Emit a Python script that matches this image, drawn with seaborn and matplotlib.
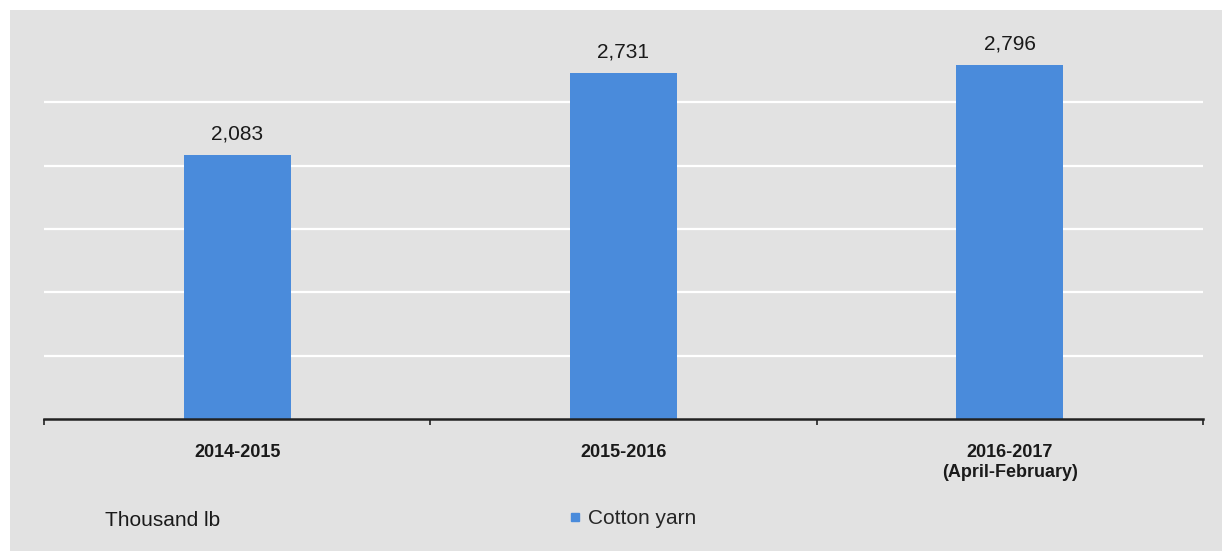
import matplotlib
matplotlib.use("Agg")
import matplotlib.pyplot as plt
from matplotlib.lines import Line2D
from matplotlib.patches import Rectangle
import seaborn as sns
import pandas as pd

categories = ["2014-2015", "2015-2016", "2016-2017\n(April-February)"]
values = [2083, 2731, 2796]
value_labels = ["2,083", "2,731", "2,796"]
series_name = "Cotton yarn"
unit_label = "Thousand lb"

df = pd.DataFrame({"period": categories, "value": values})

sns.set_style("white")
plt.rcParams["font.family"] = ["Liberation Sans", "DejaVu Sans"]

W, H = 1231, 551
fig = plt.figure(figsize=(W / 100, H / 100), dpi=100, facecolor="white")
bg = "#e2e2e2"
fig.patches.append(Rectangle((10 / W, 0), (1222 - 10) / W, 1 - 10 / H,
                             transform=fig.transFigure, facecolor=bg,
                             edgecolor="none", zorder=-10))

ax = fig.add_axes([44 / W, 1 - 419 / H, (1203 - 44) / W, (419 - 32.6) / H])
ax.set_facecolor(bg)

bar_color = "#4a8bdb"
sns.barplot(data=df, x="period", y="value", color=bar_color, width=0.277,
            saturation=1, linewidth=0, edgecolor="none", ax=ax, zorder=3)

ax.set_xlim(-0.5, 2.5)
ax.set_ylim(0, 3050)
ax.set_yticks([500, 1000, 1500, 2000, 2500])
ax.yaxis.grid(True, color="white", linewidth=1.6, zorder=0)
ax.set_axisbelow(True)
ax.tick_params(axis="y", left=False, labelleft=False)
for s in ["top", "right", "left"]:
    ax.spines[s].set_visible(False)
ax.spines["bottom"].set_color("#222222")
ax.spines["bottom"].set_linewidth(1.8)
ax.spines["bottom"].set_zorder(5)

ax.set_xticks([0, 1, 2])
ax.set_xticklabels(categories, fontsize=13, fontweight="bold", color="#1a1a1a")
ax.set_xticks([-0.5, 0.5, 1.5, 2.5], minor=True)
ax.tick_params(axis="x", which="major", bottom=False, length=0, pad=18)
ax.tick_params(axis="x", which="minor", bottom=True, length=4, width=1.2,
               color="#222222", direction="out")
ax.set_xlabel("")
ax.set_ylabel("")

ax.bar_label(ax.containers[0], labels=value_labels, padding=8, fontsize=15, color="#1a1a1a")

fig.text(105 / W, 1 - 520 / H, unit_label, fontsize=15, color="#1a1a1a", va="center", ha="left")

handle = Line2D([], [], marker="s", linestyle="none", markersize=6,
                markerfacecolor=bar_color, markeredgecolor=bar_color)
fig.legend([handle], [series_name], loc="center left",
           bbox_to_anchor=(569 / W, 1 - 519 / H), frameon=False, fontsize=15,
           handlelength=0.6, handletextpad=0.3, borderaxespad=0, borderpad=0)

fig.savefig("out.png", dpi=100, facecolor="white")
